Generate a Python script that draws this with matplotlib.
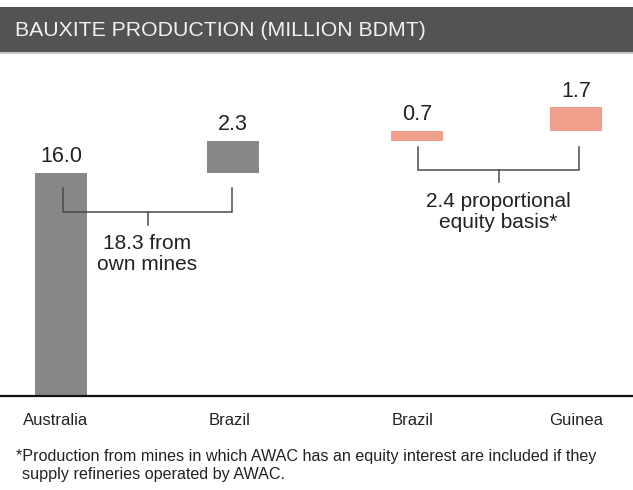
import matplotlib
matplotlib.use("Agg")
import matplotlib.pyplot as plt
from matplotlib.patches import Rectangle

plt.rcParams["font.family"] = ["Liberation Sans", "DejaVu Sans"]

# ── data ─────────────────────────────────────────────────────────────
categories = ["Australia", "Brazil", "Brazil", "Guinea"]
values = [16.0, 2.3, 0.7, 1.7]
groups = ["own", "own", "equity", "equity"]
own_total_label = "18.3 from\nown mines"
equity_total_label = "2.4 proportional\nequity basis*"
title = "BAUXITE PRODUCTION (MILLION BDMT)"
footnote_1 = "*Production from mines in which AWAC has an equity interest are included if they"
footnote_2 = "supply refineries operated by AWAC."

# ── layout (pixels of a 633x490 canvas) ──────────────────────────────
W, H = 633, 490
x_pos = [61, 233, 417, 576]
label_shift = [-5, -3, -4, 0]
bar_w = 52
px_per_unit = 13.94
base_px = 396          # baseline row from top
top_px = 56

colors = {"own": "#878787", "equity": "#f0a08c"}
ink = "#222222"
bracket_c = "#4a4a4a"

fig = plt.figure(figsize=(W / 100, H / 100), dpi=100)
fig.patch.set_facecolor("white")

# header band
fig.patches.append(Rectangle((0, 1 - 52 / H), 1, 45 / H, transform=fig.transFigure,
                             facecolor="#545253", edgecolor="none"))
fig.patches.append(Rectangle((0, 1 - 54 / H), 1, 2 / H, transform=fig.transFigure,
                             facecolor="#c8c8c8", edgecolor="none"))
fig.text(15 / W, 1 - 30 / H, title, color="#f2f2f2", fontsize=15.3,
         ha="left", va="center")

ax = fig.add_axes([0, 1 - base_px / H, 1, (base_px - top_px) / H])
ax.set_xlim(0, W)
ax.set_ylim(0, (base_px - top_px) / px_per_unit)
for s in ["top", "left", "right"]:
    ax.spines[s].set_visible(False)
ax.spines["bottom"].set_linewidth(1.6)
ax.spines["bottom"].set_color("#111111")
ax.set_yticks([])
ax.set_xticks([x + d for x, d in zip(x_pos, label_shift)])
ax.set_xticklabels(categories, fontsize=12, color=ink)
ax.tick_params(axis="x", length=0, pad=12)

# waterfall bars
bottoms = []
run = 0.0
for v in values:
    bottoms.append(run)
    run += v
ax.bar(x_pos, values, width=bar_w, bottom=bottoms,
       color=[colors[g] for g in groups], edgecolor="none")

for x, b, v in zip(x_pos, bottoms, values):
    ax.text(x, b + v + 0.42, f"{v:.1f}", ha="center", va="bottom",
            fontsize=15.5, color=ink)


def bracket(x0, x1, y_top, y_mid, y_tick, label, y_text):
    ax.plot([x0, x0, x1, x1], [y_top, y_mid, y_mid, y_top],
            color=bracket_c, lw=1.1, solid_joinstyle="miter")
    xm = (x0 + x1) / 2
    ax.plot([xm, xm], [y_mid, y_tick], color=bracket_c, lw=1.1)
    ax.text(xm, y_text, label, ha="center", va="top", fontsize=15,
            color=ink, linespacing=1.12)


def to_y(px):
    return (base_px - px) / px_per_unit


bracket(x_pos[0] + 2, x_pos[1] - 1, to_y(188), to_y(212), to_y(225),
        own_total_label, to_y(234))
bracket(x_pos[2] + 1, x_pos[3] + 3, to_y(147), to_y(170), to_y(182),
        equity_total_label, to_y(192))

fig.text(16 / W, 1 - 456 / H, footnote_1, fontsize=11.6, color=ink,
         ha="left", va="center")
fig.text(22 / W, 1 - 474 / H, footnote_2, fontsize=11.6, color=ink,
         ha="left", va="center")

fig.savefig("out.png", dpi=100)
